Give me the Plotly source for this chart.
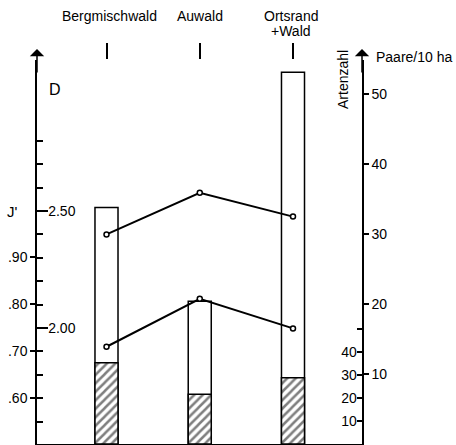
import plotly.graph_objects as go

categories = ["Bergmischwald", "Auwald", "Ortsrand +Wald"]
paare = [33.8, 20.4, 53.1]          # Paare / 10 ha (open bars)
artenzahl = [35.3, 21.6, 28.8]      # Artenzahl (hatched bars)
d_values = [2.40, 2.578, 2.476]     # Diversität D
j_values = [0.709, 0.811, 0.748]    # Evenness J'

paare_ticks = [10, 20, 30, 40, 50]
arten_ticks = [10, 20, 30, 40, 50]
arten_ticktext = ["10", "20", "30", "40", ""]
j_ticks = [0.6, 0.7, 0.8, 0.9]
j_ticktext = [".60", ".70", ".80", ".90"]
d_ticks = [2.0, 2.5]
d_ticktext = ["2.00", "2.50"]
d_minor = [1.6, 1.7, 1.8, 1.9, 2.1, 2.2, 2.3, 2.4, 2.6, 2.7, 2.8]

xpos = list(range(len(categories)))
FONT = "Liberation Sans, Arial, sans-serif"

fig = go.Figure()
fig.add_trace(go.Bar(x=xpos, y=paare, width=0.247, xaxis="x", yaxis="y",
                     marker=dict(color="white", line=dict(color="black", width=1.5)),
                     showlegend=False))
fig.add_trace(go.Bar(x=xpos, y=artenzahl, width=0.247, xaxis="x", yaxis="y2",
                     marker=dict(color="white", line=dict(color="black", width=1.5),
                                 pattern=dict(shape="/", fgcolor="black", bgcolor="white",
                                              size=6, solidity=0.42)),
                     showlegend=False))
fig.add_trace(go.Scatter(x=xpos, y=j_values, xaxis="x2", yaxis="y3", mode="lines+markers",
                         line=dict(color="black", width=2),
                         marker=dict(symbol="circle", size=5, color="white",
                                     line=dict(color="black", width=1.5)),
                         showlegend=False))
fig.add_trace(go.Scatter(x=xpos, y=d_values, xaxis="x2", yaxis="y4", mode="lines+markers",
                         line=dict(color="black", width=2),
                         marker=dict(symbol="circle", size=5, color="white",
                                     line=dict(color="black", width=1.5)),
                         showlegend=False))

xr = [-0.7453, 2.740]
tickfont = dict(family=FONT, size=14, color="black")

fig.update_layout(
    width=456, height=445,
    margin=dict(l=37, r=94, t=60, b=1),
    paper_bgcolor="white", plot_bgcolor="white",
    barmode="overlay",
    font=dict(family=FONT, size=14, color="black"),
    xaxis=dict(range=xr, showline=True, linecolor="black", linewidth=1.5,
               showticklabels=False, ticks="", showgrid=False, zeroline=False),
    xaxis2=dict(range=xr, overlaying="x", side="top", anchor="y", showline=False,
                tickvals=xpos, showticklabels=False, ticks="outside", ticklen=16,
                tickwidth=1.5, tickcolor="black", showgrid=False, zeroline=False),
    yaxis=dict(range=[0, 384 / 7], side="right", anchor="x", showline=True,
               linecolor="black", linewidth=1.5, tickvals=paare_ticks,
               ticks="outside", ticklen=5, tickwidth=1.5, tickcolor="black",
               tickfont=tickfont, showgrid=False, zeroline=False),
    yaxis2=dict(range=[0, 384 / 2.3], side="right", overlaying="y", anchor="x",
                showline=False, tickvals=arten_ticks, ticktext=arten_ticktext,
                ticks="inside", ticklen=5, tickwidth=1.5, tickcolor="black",
                ticklabelposition="inside", tickfont=tickfont,
                showgrid=False, zeroline=False),
    yaxis3=dict(range=[0.5021, 1.3191], side="left", overlaying="y", anchor="x",
                showline=True, linecolor="black", linewidth=1.5,
                tickvals=j_ticks, ticktext=j_ticktext,
                ticks="outside", ticklen=5, tickwidth=1.5, tickcolor="black",
                tickfont=tickfont, showgrid=False, zeroline=False),
    yaxis4=dict(range=[1.5043, 3.1453], side="left", overlaying="y", anchor="x",
                showline=False, tickvals=d_ticks, ticktext=d_ticktext,
                ticks="inside", ticklen=11, tickwidth=1.5, tickcolor="black",
                ticklabelposition="inside", tickfont=tickfont,
                minor=dict(tickmode="array", tickvals=d_minor, ticks="inside",
                           ticklen=6, tickwidth=1.5, tickcolor="black", showgrid=False),
                showgrid=False, zeroline=False),
)

ann = []
def py(pix):
    return (444 - pix) / 384

ann.append(dict(x=0.03, y=py(16), xref="x2", yref="paper", text="Bergmischwald",
                showarrow=False, xanchor="center", yanchor="middle", font=dict(size=14)))
ann.append(dict(x=1, y=py(16), xref="x2", yref="paper", text="Auwald",
                showarrow=False, xanchor="center", yanchor="middle", font=dict(size=14)))
ann.append(dict(x=1.98, y=py(16), xref="x2", yref="paper", text="Ortsrand",
                showarrow=False, xanchor="center", yanchor="middle", font=dict(size=14)))
ann.append(dict(x=1.98, y=py(31), xref="x2", yref="paper", text="+Wald",
                showarrow=False, xanchor="center", yanchor="middle", font=dict(size=14)))
ann.append(dict(x=(55 - 37) / 325, y=py(89), xref="paper", yref="paper", text="D",
                showarrow=False, xanchor="center", yanchor="middle", font=dict(size=16)))
ann.append(dict(x=(12 - 37) / 325, y=py(211), xref="paper", yref="paper", text="J'",
                showarrow=False, xanchor="center", yanchor="middle", font=dict(size=15)))
ann.append(dict(x=(374 - 37) / 325, y=py(57), xref="paper", yref="paper", text="Paare/10 ha",
                showarrow=False, xanchor="left", yanchor="middle", font=dict(size=14)))
ann.append(dict(x=(343 - 37) / 325, y=py(80), xref="paper", yref="paper", text="Artenzahl",
                textangle=-90, showarrow=False, xanchor="center", yanchor="middle",
                font=dict(size=14)))
for xp in [0, 1]:
    ann.append(dict(x=xp, y=py(49), xref="paper", yref="paper", text="",
                    showarrow=True, ax=0, ay=25, arrowhead=1, arrowsize=1.6,
                    arrowwidth=1.5, arrowcolor="black"))
fig.update_layout(annotations=ann)

fig.write_html("out.html")
